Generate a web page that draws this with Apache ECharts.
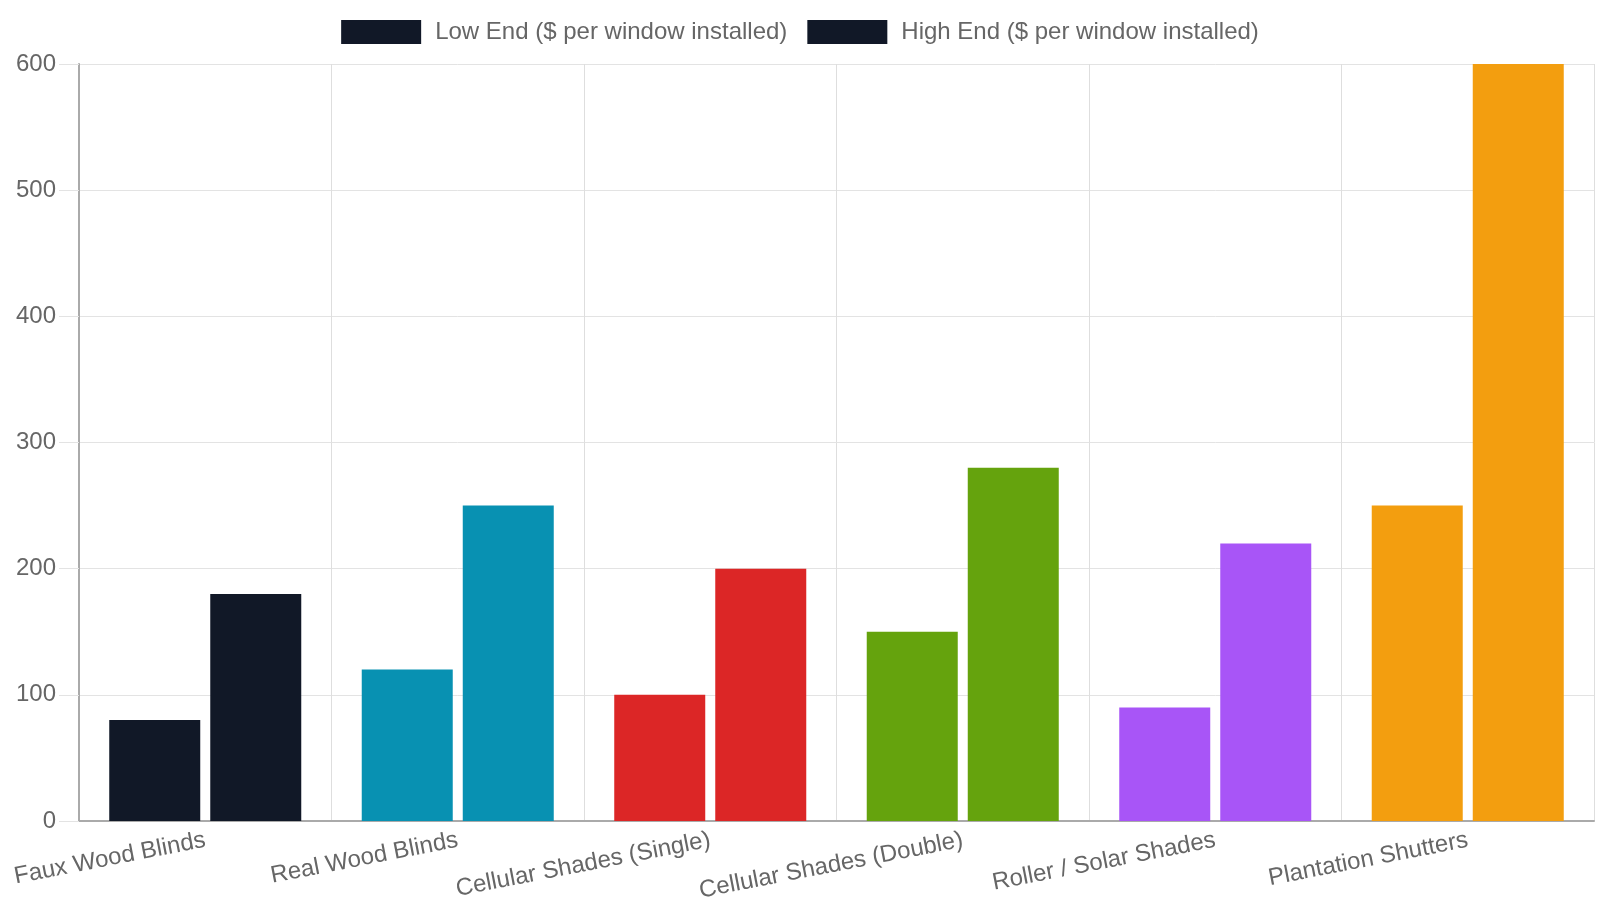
<!DOCTYPE html>
<html>
<head>
<meta charset="utf-8">
<script src="https://cdn.jsdelivr.net/npm/echarts@6/dist/echarts.min.js"></script>
<style>
  html, body { margin: 0; padding: 0; background: #fff; }
  #main { width: 1600px; height: 900px; }
</style>
</head>
<body>
<div id="main"></div>
<script>
const categories = ['Faux Wood Blinds', 'Real Wood Blinds', 'Cellular Shades (Single)', 'Cellular Shades (Double)', 'Roller / Solar Shades', 'Plantation Shutters'];
const lowEnd = [80, 120, 100, 150, 90, 250];
const highEnd = [180, 250, 200, 280, 220, 600];
const barColors = ['#111827', '#0891b2', '#dc2626', '#65a30d', '#a855f7', '#f39e0f'];

const font = '"Liberation Sans", Arial, sans-serif';

function coloured(values) {
  return values.map((v, i) => ({ value: v, itemStyle: { color: barColors[i] } }));
}

const myechart = echarts.init(document.getElementById('main'));
const option = {
  animation: false,
  textStyle: { fontFamily: font },
  legend: {
    top: 15,
    left: 'center',
    itemWidth: 80,
    itemHeight: 24,
    itemGap: 20,
    icon: 'rect',
    textStyle: { fontSize: 24, color: '#666', fontFamily: font, padding: [0, 0, 0, 9] },
  },
  grid: {
    left: 79,
    right: 6,
    top: 64,
    bottom: 79,
    containLabel: false,
    outerBoundsMode: 'none',
  },
  xAxis: {
    type: 'category',
    data: categories,
    axisLine: { lineStyle: { color: '#aaa', width: 2 } },
    axisTick: { length: 20, lineStyle: { color: '#dedede' } },
    splitLine: { show: true, lineStyle: { color: '#dedede' } },
    axisLabel: {
      rotate: 11,
      margin: 19,
      fontSize: 24,
      color: '#666',
      fontFamily: font,
      interval: 0,
    },
  },
  yAxis: {
    type: 'value',
    min: 0,
    max: 600,
    interval: 100,
    axisLine: { show: true, lineStyle: { color: '#aaa', width: 2 } },
    axisTick: { show: true, length: 20, lineStyle: { color: '#e3e3e3' } },
    splitLine: { lineStyle: { color: '#e3e3e3' } },
    axisLabel: { fontSize: 24, color: '#666', margin: 23, fontFamily: font },
  },
  series: [
    {
      name: 'Low End ($ per window installed)',
      type: 'bar',
      barWidth: 91,
      barGap: '11%',
      itemStyle: { color: '#111827' },
      data: coloured(lowEnd),
    },
    {
      name: 'High End ($ per window installed)',
      type: 'bar',
      barWidth: 91,
      barGap: '11%',
      itemStyle: { color: '#111827' },
      data: coloured(highEnd),
    },
  ],
};
myechart.setOption(option);
</script>
</body>
</html>
